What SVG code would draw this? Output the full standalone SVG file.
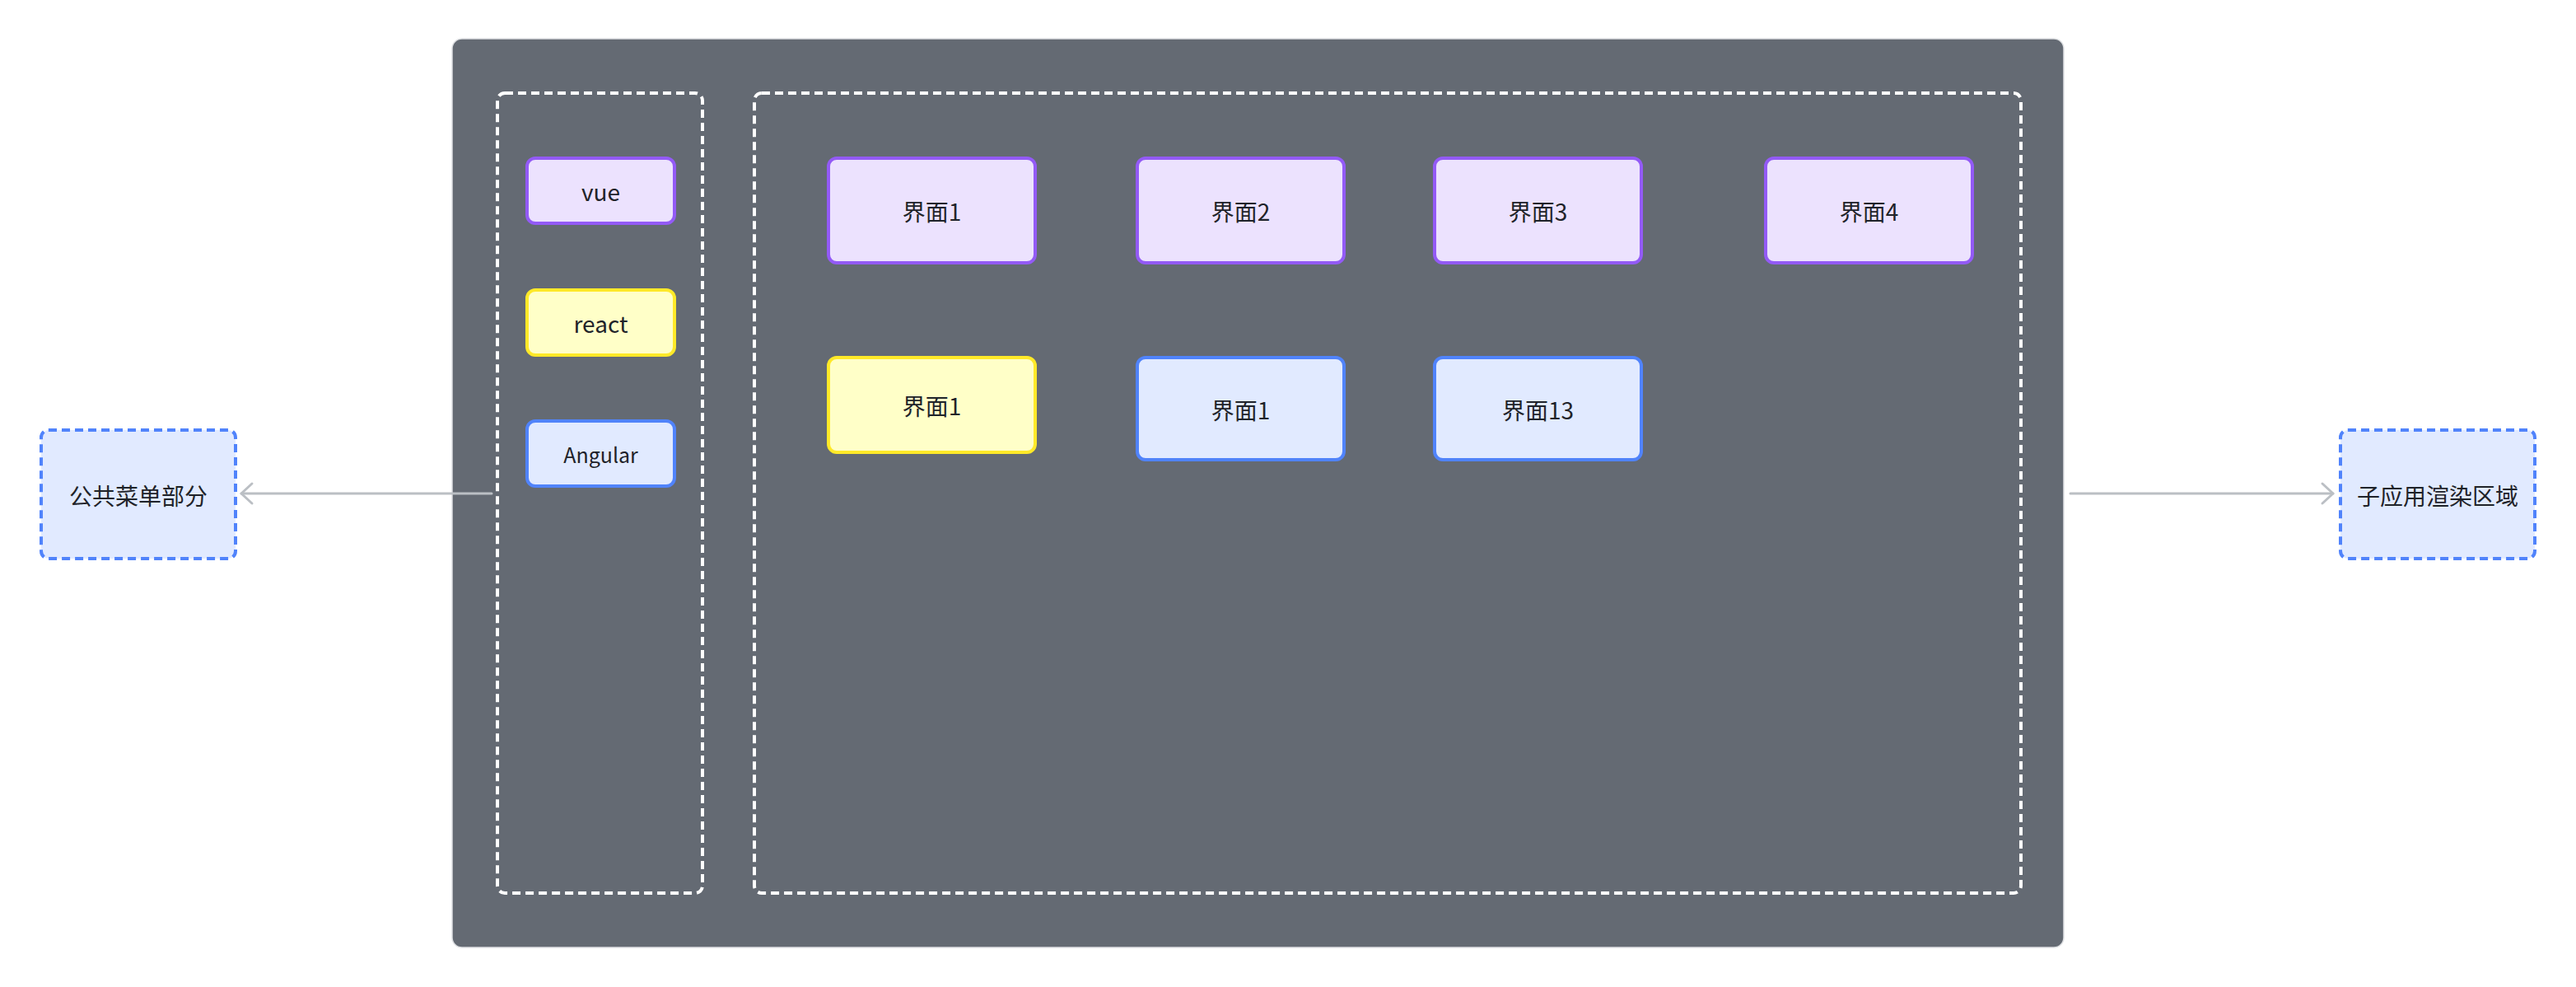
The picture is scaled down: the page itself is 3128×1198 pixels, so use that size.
<svg xmlns="http://www.w3.org/2000/svg" width="3128" height="1198" viewBox="0 0 3128 1198">
<style>
text{font-family:"Noto Sans CJK SC","Noto Sans",sans-serif;fill:#1f2329;text-anchor:middle;dominant-baseline:central;font-size:28px}
.panel{fill:#646a73;stroke:#dee0e3;stroke-width:1.5}
.zone{fill:none;stroke:#ffffff;stroke-width:4;stroke-dasharray:10 6}
.purple{fill:#ece2fe;stroke:#935af6;stroke-width:4}
.yellow{fill:#ffffc8;stroke:#ffe928;stroke-width:4}
.blue{fill:#e1eaff;stroke:#5083fb;stroke-width:4}
.side{fill:#e1eaff;stroke:#5083fb;stroke-width:4;stroke-dasharray:10 6}
.conn{stroke:#bbbfc4;stroke-width:3;fill:none;stroke-linecap:round}
</style>
<defs>
<marker id="arr" markerUnits="userSpaceOnUse" markerWidth="30" markerHeight="30" viewBox="-20 -15 24 30" refX="0" refY="0" orient="auto">
<path d="M-13,-12 L0,0 L-13,12" fill="none" stroke="#bbbfc4" stroke-width="3" stroke-linecap="round" stroke-linejoin="round"/>
</marker>
</defs>
<rect width="3128" height="1198" fill="#ffffff"/>
<g id="panel"><rect class="panel" x="549" y="47" width="1957" height="1103" rx="12"/></g>
<g id="menu-zone"><rect class="zone" x="604" y="113" width="249" height="971" rx="9"/></g>
<g id="render-zone"><rect class="zone" x="916" y="113" width="1538" height="971" rx="9"/></g>
<g id="vue"><rect class="purple" x="640" y="192" width="179" height="79" rx="10"/><text x="729.5" y="232">vue</text></g>
<g id="react"><rect class="yellow" x="640" y="352" width="179" height="79" rx="10"/><text x="729.5" y="392">react</text></g>
<g id="angular"><rect class="blue" x="640" y="511" width="179" height="79" rx="10"/><text x="729.5" y="551" style="font-size:25px">Angular</text></g>
<g id="page1"><rect class="purple" x="1006" y="192" width="251" height="127" rx="10"/><text x="1131.5" y="256">界面1</text></g>
<g id="page2"><rect class="purple" x="1381" y="192" width="251" height="127" rx="10"/><text x="1506.5" y="256">界面2</text></g>
<g id="page3"><rect class="purple" x="1742" y="192" width="251" height="127" rx="10"/><text x="1867.5" y="256">界面3</text></g>
<g id="page4"><rect class="purple" x="2144" y="192" width="251" height="127" rx="10"/><text x="2269.5" y="256">界面4</text></g>
<g id="page1-react"><rect class="yellow" x="1006" y="434" width="251" height="115" rx="10"/><text x="1131.5" y="492">界面1</text></g>
<g id="page1-angular"><rect class="blue" x="1381" y="434" width="251" height="124" rx="10"/><text x="1506.5" y="497">界面1</text></g>
<g id="page13"><rect class="blue" x="1742" y="434" width="251" height="124" rx="10"/><text x="1867.5" y="497">界面13</text></g>
<g id="public-menu"><rect class="side" x="50" y="522" width="236" height="156" rx="9"/><text x="168" y="601">公共菜单部分</text></g>
<g id="sub-app"><rect class="side" x="2842" y="522" width="236" height="156" rx="9"/><text x="2960" y="601">子应用渲染区域</text></g>
<g id="connectors">
<line class="conn" x1="597" y1="599" x2="293" y2="599" marker-end="url(#arr)"/>
<line class="conn" x1="2514" y1="599" x2="2833" y2="599" marker-end="url(#arr)"/>
</g>
</svg>
